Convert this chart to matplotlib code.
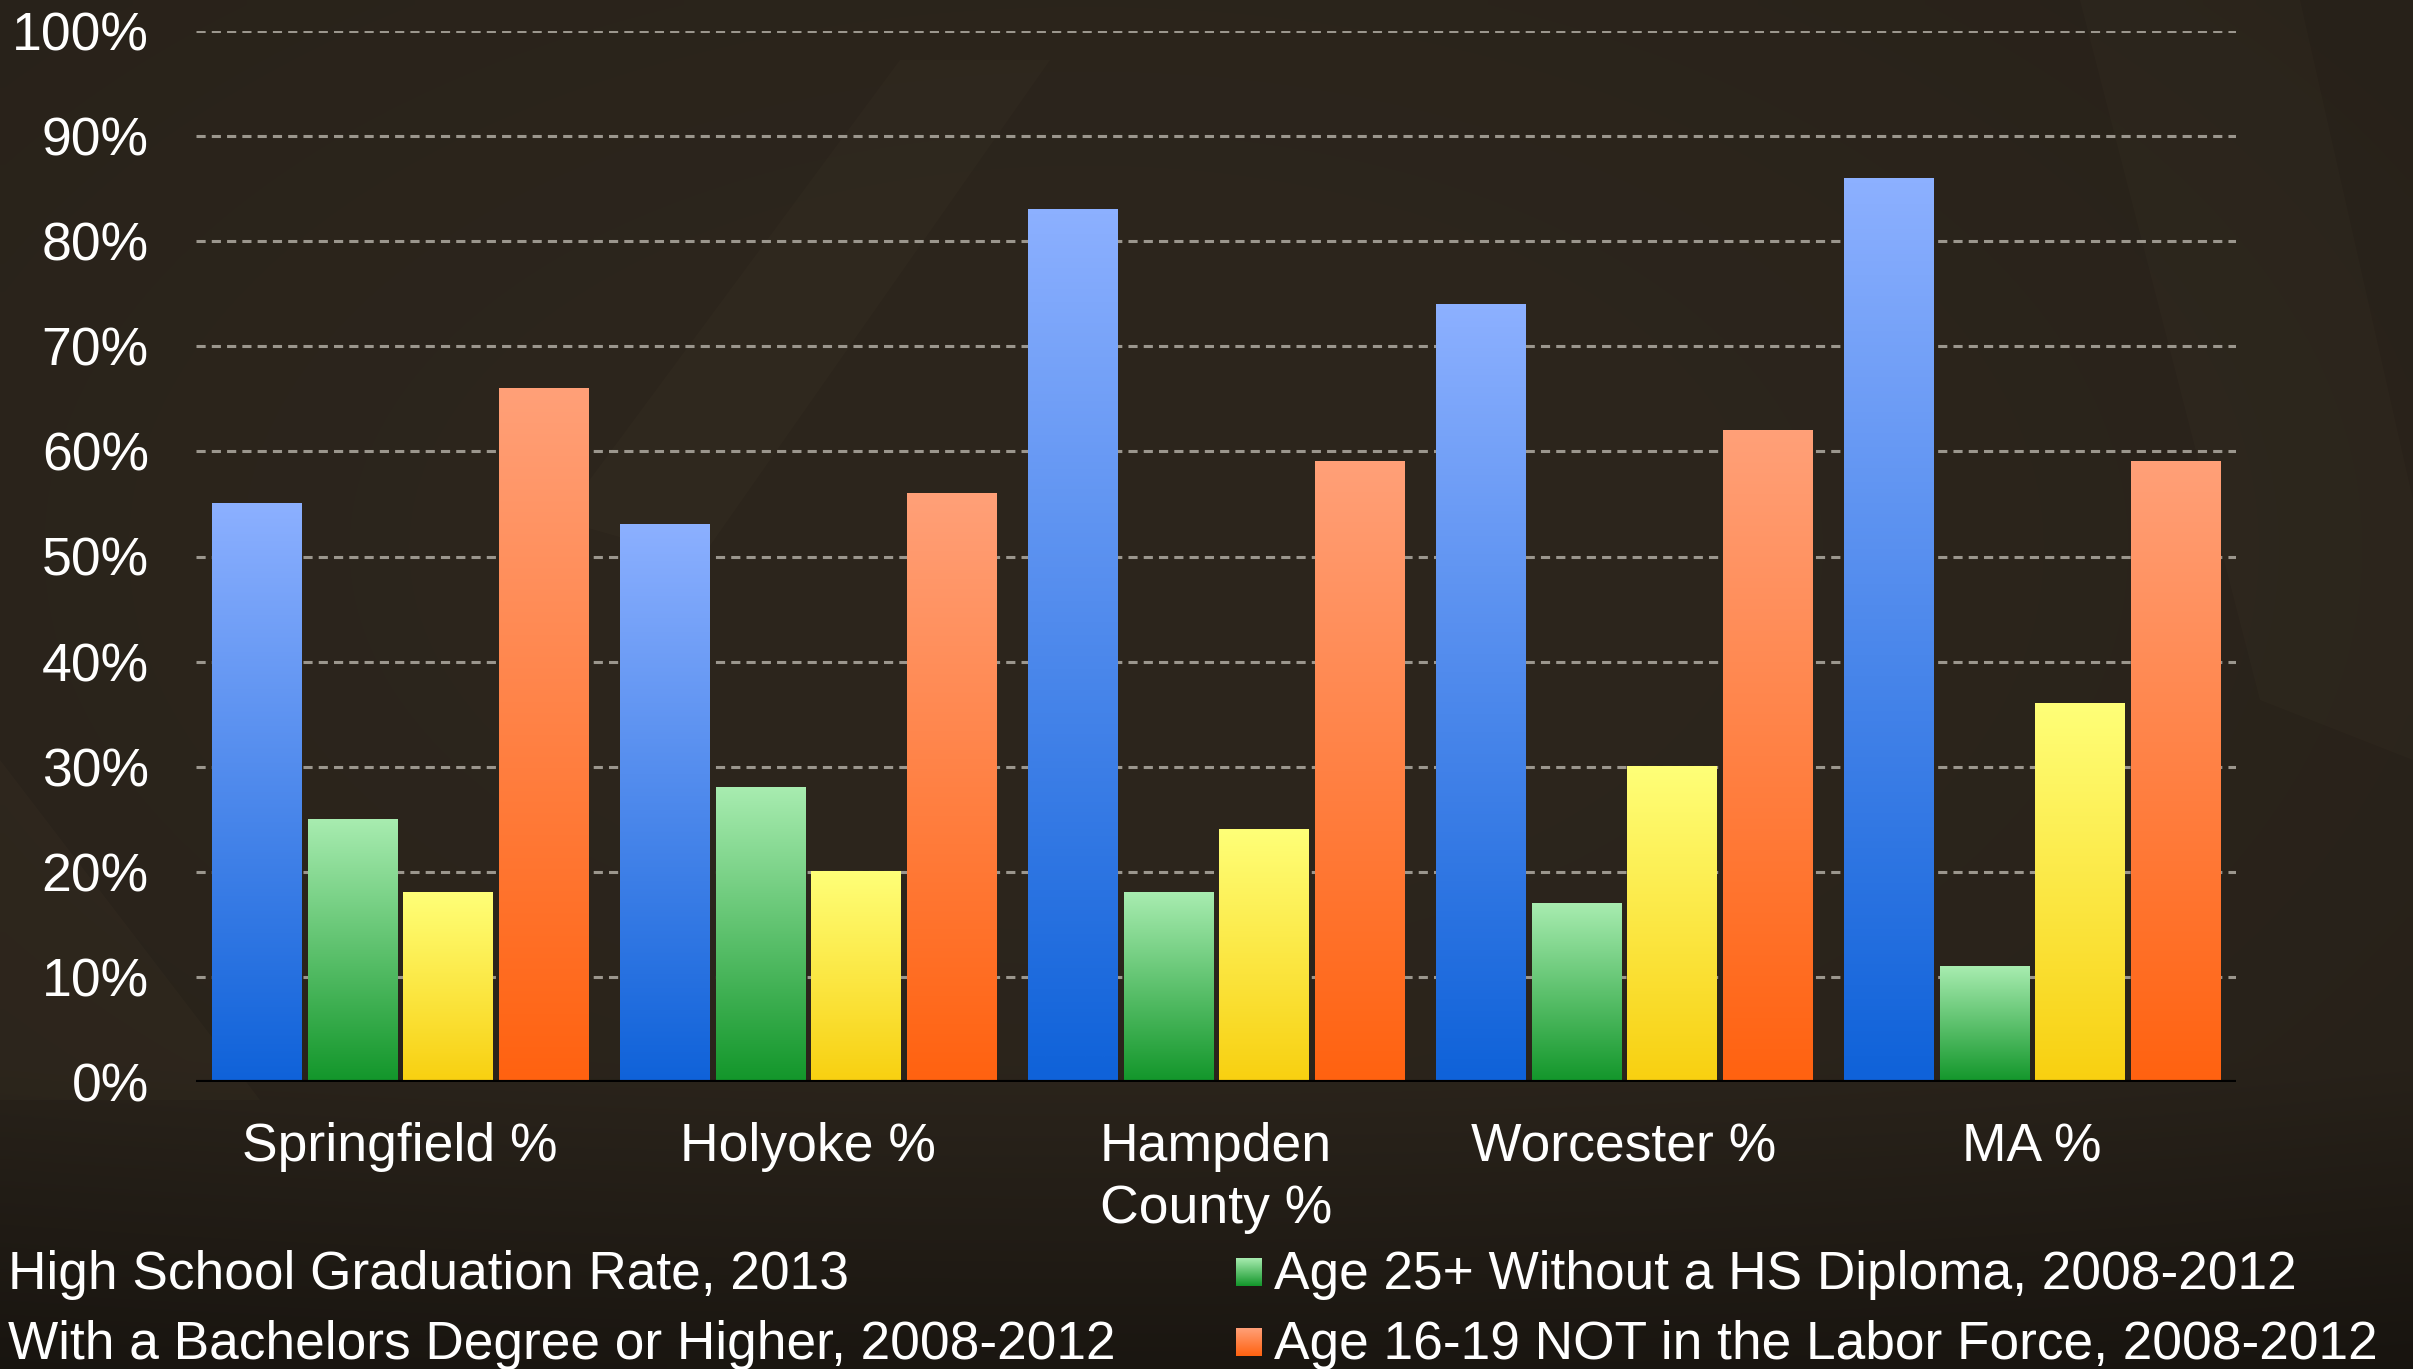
import numpy as np
import matplotlib
matplotlib.use('Agg')
import matplotlib.pyplot as plt
from matplotlib.colors import LinearSegmentedColormap
from matplotlib.patches import Polygon
from matplotlib.ticker import PercentFormatter

# Education / labour indicators by area (fractions)
categories = ['Springfield %', 'Holyoke %', 'Hampden\nCounty %', 'Worcester %', 'MA %']
grad_rate = [0.55, 0.53, 0.83, 0.74, 0.86]
no_diploma = [0.25, 0.28, 0.18, 0.17, 0.11]
bachelors = [0.18, 0.20, 0.24, 0.30, 0.36]
not_in_labor = [0.66, 0.56, 0.59, 0.62, 0.59]
series_labels = ['High School Graduation Rate, 2013',
                 'Age 25+ Without a HS Diploma, 2008-2012',
                 'With a Bachelors Degree or Higher, 2008-2012',
                 'Age 16-19 NOT in the Labor Force, 2008-2012']
y_ticks = [0.0, 0.1, 0.2, 0.3, 0.4, 0.5, 0.6, 0.7, 0.8, 0.9, 1.0]

series = [grad_rate, no_diploma, bachelors, not_in_labor]
# (top colour, bottom colour) for each series gradient
gradients = [('#8cb0ff', '#0f62d9'),
             ('#a8ecb0', '#12962a'),
             ('#ffff78', '#f8d010'),
             ('#ffa078', '#ff6210')]

plt.rcParams['font.family'] = ['Liberation Sans', 'DejaVu Sans']

W, H = 2413, 1369
fig = plt.figure(figsize=(W / 100, H / 100), dpi=100)

# dark brown backdrop, drawn in pixel coordinates
bg = fig.add_axes([0, 0, 1, 1], zorder=0)
gy, gx = np.mgrid[0:1:140j, 0:1:240j]
shade = 1 - 0.28 * ((gx - 0.45) ** 2 + (gy - 0.4) ** 2)
shade *= 1 - 0.35 * np.clip((gy - 0.78) / 0.22, 0, 1)
base = np.array([45, 38, 29]) / 255
bg.imshow(shade[..., None] * base, extent=[0, W, H, 0], aspect='auto',
          interpolation='bilinear')
bg.add_patch(Polygon([(0, 760), (260, 1100), (0, 1100)], closed=True,
                     color='#6b5a40', alpha=0.07, lw=0))
bg.add_patch(Polygon([(560, 520), (900, 60), (1050, 60), (700, 560)], closed=True,
                     color='#6b5a40', alpha=0.06, lw=0))
bg.add_patch(Polygon([(2080, 0), (2300, 0), (2413, 500), (2413, 760), (2260, 700)],
                     closed=True, color='#6b5a40', alpha=0.06, lw=0))

ax = fig.add_axes([196 / W, (H - 1082) / H, (2236 - 196) / W, (1082 - 31) / H], zorder=1)
ax.patch.set_alpha(0)

x = np.arange(len(categories))
width = 0.219
step = 0.234
ramp = np.linspace(0, 1, 256).reshape(-1, 1)

for i, (vals, (top, bottom)) in enumerate(zip(series, gradients)):
    cmap = LinearSegmentedColormap.from_list('bar%d' % i, [top, bottom])
    bars = ax.bar(x + (i - 1.5) * step, vals, width, color='none',
                  edgecolor='none', zorder=3)
    for b in bars:
        x0, w, h = b.get_x(), b.get_width(), b.get_height()
        ax.imshow(ramp, extent=[x0, x0 + w, 0, h], cmap=cmap, aspect='auto',
                  interpolation='bilinear', zorder=3)

ax.set_xlim(-0.5, len(categories) - 0.5)
ax.set_ylim(0, 1)
ax.set_yticks(y_ticks)
ax.yaxis.set_major_formatter(PercentFormatter(1.0, decimals=0))
ax.set_xticks(x)
ax.set_xticklabels(categories, linespacing=1.3)
ax.yaxis.grid(True, color='#9b968d', linestyle=(0, (3, 2)), linewidth=2.2)
ax.set_axisbelow(True)
ax.axhline(0, color='black', linewidth=3, zorder=4)
for s in ax.spines.values():
    s.set_visible(False)
ax.tick_params(axis='both', length=0, labelsize=38.5, labelcolor='white')
ax.tick_params(axis='y', pad=34)
ax.tick_params(axis='x', pad=29)

# legend laid out by hand: two rows, two columns
legend_rows = [1289, 1359]
left_x, right_x = 8, 1274
swatches = [None, (1236, 1262), None, (1236, 1262)]
for i, label in enumerate(series_labels):
    row = legend_rows[i // 2]
    tx = left_x if i % 2 == 0 else right_x
    fig.text(tx / W, 1 - row / H, label, fontsize=38.3, color='white',
             va='baseline', ha='left')
    if swatches[i] is not None:
        cmap = LinearSegmentedColormap.from_list('sw%d' % i, list(gradients[i]))
        sx0, sx1 = swatches[i]
        bg.imshow(ramp, extent=[sx0, sx1, row - 3, row - 31], cmap=cmap,
                  aspect='auto', interpolation='bilinear')
bg.set_xlim(0, W)
bg.set_ylim(H, 0)
bg.axis('off')

fig.savefig('out.png', dpi=100)
